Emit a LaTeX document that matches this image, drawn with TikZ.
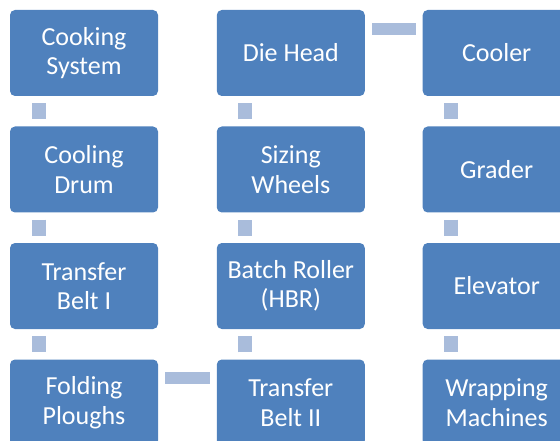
\documentclass[tikz,border=0pt]{standalone}
\usepackage{fontspec}
\setmainfont{Carlito}
\definecolor{boxblue}{HTML}{4F81BD}
\definecolor{connblue}{HTML}{A9BCDB}
\begin{document}
\begin{tikzpicture}[x=1pt,y=-1pt,
  stage/.style={fill=boxblue, rounded corners=5pt, minimum width=148pt, minimum height=86pt,
    inner sep=0pt, text=white, align=center,
    font=\fontsize{26pt}{29.5pt}\selectfont},
  vconn/.style={draw=connblue, line width=14pt},
  hconn/.style={draw=connblue, line width=12pt}]
\useasboundingbox (0,0) rectangle (560,441);
\begin{scope}
\clip (0,0) rectangle (560,441);
% column 1
\node[stage] (cook) at (84,53) {Cooking\\System};
\node[stage] (drum) at (84,169.5) {Cooling\\Drum};
\node[stage] (tb1) at (84,286) {Transfer\\Belt I};
\node[stage] (fold) at (84,402.5) {Folding\\Ploughs};
% column 2
\node[stage] (die) at (290.8,53) {Die Head};
\node[stage] (size) at (290.8,169.5) {Sizing\\Wheels};
\node[stage] (batch) at (290.8,286) {Batch Roller\\(HBR)};
\node[stage] (tb2) at (290.8,402.5) {Transfer\\Belt II};
% column 3
\node[stage] (cooler) at (496.7,53) {Cooler};
\node[stage] (grader) at (496.7,169.5) {Grader};
\node[stage] (elev) at (496.7,286) {Elevator};
\node[stage] (wrap) at (496.7,402.5) {Wrapping\\Machines};
% vertical connectors
\draw[vconn] ([xshift=29pt,yshift=-7pt]cook.south west) -- ([xshift=29pt,yshift=7pt]drum.north west);
\draw[vconn] ([xshift=29pt,yshift=-7pt]drum.south west) -- ([xshift=29pt,yshift=7pt]tb1.north west);
\draw[vconn] ([xshift=29pt,yshift=-7pt]tb1.south west) -- ([xshift=29pt,yshift=7pt]fold.north west);
\draw[vconn] ([xshift=28pt,yshift=7pt]tb2.north west) -- ([xshift=28pt,yshift=-7pt]batch.south west);
\draw[vconn] ([xshift=28pt,yshift=7pt]batch.north west) -- ([xshift=28pt,yshift=-7pt]size.south west);
\draw[vconn] ([xshift=28pt,yshift=7pt]size.north west) -- ([xshift=28pt,yshift=-7pt]die.south west);
\draw[vconn] ([xshift=28pt,yshift=-7pt]cooler.south west) -- ([xshift=28pt,yshift=7pt]grader.north west);
\draw[vconn] ([xshift=28pt,yshift=-7pt]grader.south west) -- ([xshift=28pt,yshift=7pt]elev.north west);
\draw[vconn] ([xshift=28pt,yshift=-7pt]elev.south west) -- ([xshift=28pt,yshift=7pt]wrap.north west);
% horizontal connectors
\draw[hconn] ([xshift=7pt,yshift=-19pt]fold.north east) -- ([xshift=-7pt,yshift=-19pt]tb2.north west);
\draw[hconn] ([xshift=7pt,yshift=-19pt]die.north east) -- ([xshift=-7pt,yshift=-19pt]cooler.north west);
\end{scope}
\end{tikzpicture}
\end{document}
